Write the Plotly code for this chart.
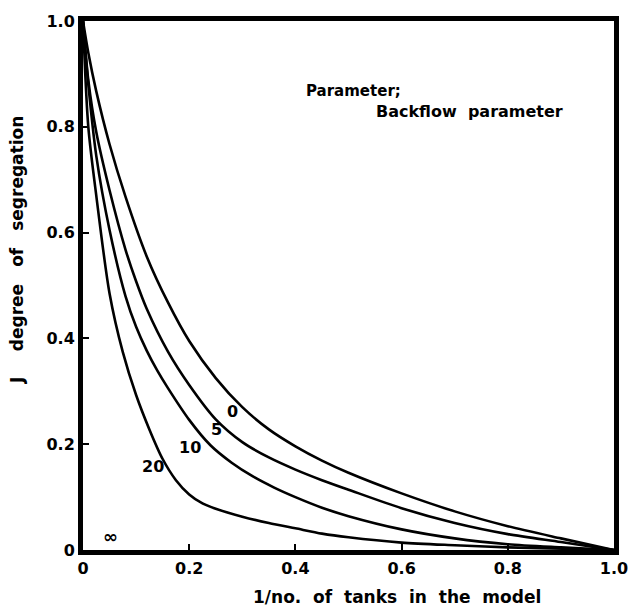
import plotly.graph_objects as go

# Degree of segregation J against 1/(number of tanks), one curve per backflow parameter
inv_n_0 = [0.0, 0.01, 0.025, 0.05, 0.08, 0.12, 0.16, 0.20, 0.25, 0.30, 0.35, 0.40, 0.45, 0.50, 0.60, 0.70, 0.80, 0.90, 1.0]
j_bf0 = [1.0, 0.940, 0.867, 0.767, 0.668, 0.555, 0.468, 0.395, 0.325, 0.270, 0.228, 0.196, 0.169, 0.146, 0.107, 0.073, 0.045, 0.022, 0.0]

inv_n_5 = [0.0, 0.01, 0.025, 0.05, 0.08, 0.10, 0.12, 0.16, 0.20, 0.25, 0.30, 0.35, 0.40, 0.45, 0.50, 0.60, 0.70, 0.80, 0.90, 1.0]
j_bf5 = [1.0, 0.888, 0.790, 0.680, 0.568, 0.508, 0.456, 0.375, 0.312, 0.247, 0.204, 0.175, 0.152, 0.132, 0.114, 0.079, 0.051, 0.030, 0.015, 0.0]

inv_n_10 = [0.0, 0.01, 0.025, 0.05, 0.08, 0.10, 0.12, 0.14, 0.16, 0.20, 0.24, 0.28, 0.32, 0.36, 0.40, 0.45, 0.50, 0.60, 0.70, 0.80, 0.90, 1.0]
j_bf10 = [1.0, 0.880, 0.745, 0.605, 0.480, 0.422, 0.377, 0.339, 0.306, 0.246, 0.198, 0.165, 0.139, 0.118, 0.100, 0.080, 0.064, 0.039, 0.022, 0.011, 0.005, 0.0]

inv_n_20 = [0.0, 0.01, 0.025, 0.05, 0.075, 0.10, 0.125, 0.15, 0.175, 0.20, 0.225, 0.25, 0.30, 0.35, 0.40, 0.45, 0.50, 0.60, 0.70, 0.80, 1.0]
j_bf20 = [1.0, 0.800, 0.670, 0.485, 0.374, 0.293, 0.228, 0.172, 0.132, 0.105, 0.088, 0.078, 0.063, 0.051, 0.041, 0.031, 0.024, 0.014, 0.009, 0.005, 0.0]

curve_labels = ["0", "5", "10", "20", "\u221e"]
label_x = [0.282, 0.252, 0.202, 0.132, 0.051]
label_y = [0.261, 0.227, 0.193, 0.158, 0.025]

tick_vals = [0, 0.2, 0.4, 0.6, 0.8, 1.0]
tick_text = ["0", "0.2", "0.4", "0.6", "0.8", "1.0"]

FONT = "DejaVu Sans"
ink = "black"

# plot-area pixel box used to place the outside titles
L, R, T, B = 83, 614, 21, 550
W, H = 630, 612


def px(xp):
    return (xp - L) / (R - L)


def py(yp):
    return (B - yp) / (B - T)


fig = go.Figure()
for xs, ys in [(inv_n_0, j_bf0), (inv_n_5, j_bf5), (inv_n_10, j_bf10), (inv_n_20, j_bf20)]:
    fig.add_trace(go.Scatter(
        x=xs, y=ys, mode="lines",
        line=dict(color=ink, width=2.6, shape="spline", smoothing=0.8),
        showlegend=False, hoverinfo="skip",
    ))

for t, lx, ly in zip(curve_labels, label_x, label_y):
    fig.add_annotation(x=lx, y=ly, text=t, showarrow=False,
                       xanchor="center", yanchor="middle",
                       font=dict(family=FONT, size=18 if t == "\u221e" else 16,
                                 color=ink, weight="bold"))

fig.add_annotation(x=px(304), y=py(91), xref="paper", yref="paper",
                   text="Parameter;", showarrow=False, xanchor="left", yanchor="middle",
                   font=dict(family=FONT, size=15, color=ink, weight="bold"))
fig.add_annotation(x=px(374), y=py(112), xref="paper", yref="paper",
                   text="Backflow  parameter", showarrow=False, xanchor="left", yanchor="middle",
                   font=dict(family=FONT, size=16, color=ink, weight="bold"))

# axis titles
fig.add_annotation(
    xref="paper", yref="paper", x=px(397), y=py(597),
    xanchor="center", yanchor="middle",
    text="1/no.  of  tanks  in  the  model", showarrow=False,
    font=dict(family=FONT, size=17, color=ink, weight="bold"),
)
fig.add_annotation(
    xref="paper", yref="paper", x=px(17), y=py(250),
    xanchor="center", yanchor="middle",
    text="J\u2003\u2002degree\u2003of\u2003segregation", textangle=-90, showarrow=False,
    font=dict(family=FONT, size=17, color=ink, weight="bold"),
)

axis_common = dict(
    range=[0, 1], tickvals=tick_vals, ticktext=tick_text,
    showgrid=False, zeroline=False,
    showline=True, linecolor=ink, linewidth=5, mirror=True,
    ticks="inside", ticklen=6, tickwidth=2, tickcolor=ink,
    tickfont=dict(family=FONT, size=16, color=ink, weight="bold"),
)
fig.update_xaxes(**axis_common)
fig.update_yaxes(**axis_common)

fig.update_layout(
    width=W, height=H,
    margin=dict(l=L, r=W - R, t=T, b=H - B, autoexpand=False),
    plot_bgcolor="white", paper_bgcolor="white",
)

fig.write_html("out.html")
